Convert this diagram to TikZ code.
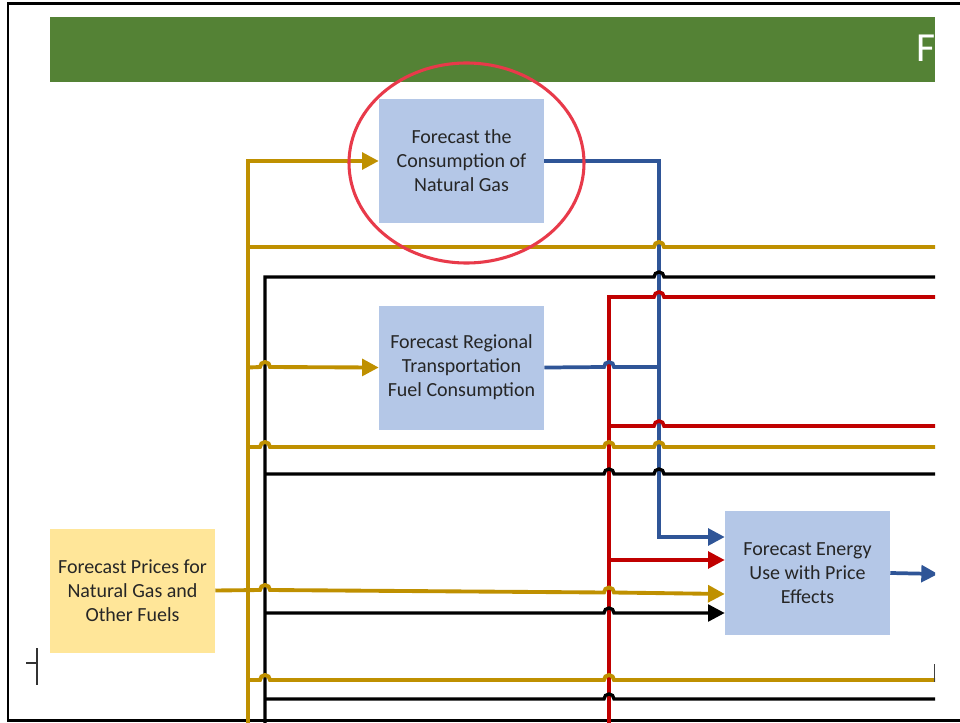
\documentclass[tikz,border=0pt]{standalone}
\usepackage{fontspec}
\setmainfont{Carlito}
\usetikzlibrary{positioning, arrows.meta}

\definecolor{gold}{RGB}{191,144,0}
\definecolor{flowblue}{RGB}{47,85,151}
\definecolor{flowred}{RGB}{192,0,0}
\definecolor{boxblue}{RGB}{180,199,231}
\definecolor{boxyellow}{RGB}{255,230,153}
\definecolor{bargreen}{RGB}{84,130,53}
\definecolor{ringred}{RGB}{232,58,74}

% little bridge where a line crosses another one
\newcommand{\hop}[2]{-- ({#1-5},#2) arc(180:360:5)}

\tikzset{
  task/.style={rectangle, fill=boxblue, minimum width=123.75pt, minimum height=93pt,
    inner sep=0pt, align=center, text=black!85, font=\fontsize{15}{18}\selectfont},
  goldln/.style={draw=gold, line width=2.9pt},
  blueln/.style={draw=flowblue, line width=2.8pt},
  redln/.style={draw=flowred, line width=2.7pt},
  blackln/.style={draw=black, line width=2.5pt},
  tip/.style={-{Triangle[length=12.5pt,width=12.5pt]}}
}

\begin{document}
\begin{tikzpicture}[x=0.75pt,y=-0.75pt]
\fill[white] (0,0) rectangle (960,723);
\useasboundingbox (0,0) rectangle (960,723);

% outer frame
\fill[black] (7,2.5) rectangle (960,5);
\draw[line width=1.6pt] (8,4) -- (8,720.5) -- (960,720.5);

\begin{scope}
\clip (0,0) rectangle (935,723);

\fill[bargreen] (50,17) rectangle (935,82);
\node[anchor=base west, inner sep=0pt, text=white, font=\fontsize{31}{36}\selectfont] (ttl) at (916,62) {F};

\node[task] (fc) at (461.5,161) {Forecast the\\Consumption of\\Natural Gas};
\node[task, below=61.5pt of fc] (tr) {Forecast Regional\\Transportation\\Fuel Consumption};
\node[task] (eu) at (807.5,573) {Forecast Energy\\Use with Price\\Effects};
\node[task, fill=boxyellow] (pf) at (132.5,590.5) {Forecast Prices for\\Natural Gas and\\Other Fuels};

\coordinate (gtrunk) at (248,723);
\coordinate (ktrunk) at (265,723);
\coordinate (rtrunk) at (609,723);
\coordinate (btrunk) at (659,537);
\coordinate (rim) at (935,0);

% trunks
\draw[goldln, tip] (gtrunk) |- (fc.west);
\draw[blueln, tip] (fc.east) -| (btrunk) -- (btrunk -| eu.west);
\draw[redln] (rtrunk) -- (609,297) \hop{659}{297} -- (rim |- 0,297);
\draw[blueln] (tr.east) \hop{609}{367} -- (659,367);
\draw[blackln] (ktrunk) -- (265,277) \hop{659}{277} -- (rim |- 0,277);

% lines running to the right
\draw[goldln] (gtrunk |- 0,247) \hop{659}{247} -- (rim |- 0,247);
\draw[goldln, tip] (gtrunk |- tr.west) \hop{265}{367} -- (tr.west);
\draw[redln] (rtrunk |- 0,426) \hop{659}{426} -- (rim |- 0,426);
\draw[goldln] (gtrunk |- 0,447) \hop{265}{447} \hop{609}{447} \hop{659}{447} -- (rim |- 0,447);
\draw[blackln] (ktrunk |- 0,474) \hop{609}{474} \hop{659}{474} -- (rim |- 0,474);

% inputs to the energy use box
\draw[redln, tip] (rtrunk |- 0,560) -- (eu.west |- 0,560);
\draw[goldln, tip] (pf.east) \hop{265}{590} \hop{609}{592.5} -- (eu.west |- 0,594);
\draw[blackln, tip] (ktrunk |- 0,613) \hop{609}{613} -- (eu.west |- 0,613);
\draw[blueln, tip] (eu.east) -- (938,574);

\draw[goldln] (gtrunk |- 0,680) \hop{265}{680} \hop{609}{680} -- (rim |- 0,680);
\draw[blackln] (ktrunk |- 0,699) \hop{609}{699} -- (rim |- 0,699);

\draw[black!75, line width=0.8pt] (934.5,664) -- (934.5,682);
\end{scope}

\draw[ringred, line width=2.3pt] (466.5,163) ellipse [x radius=117.5, y radius=100];

\draw[black!80, line width=1.4pt] (37,648) -- (37,685) (26,663) -- (37,663);
\end{tikzpicture}
\end{document}
